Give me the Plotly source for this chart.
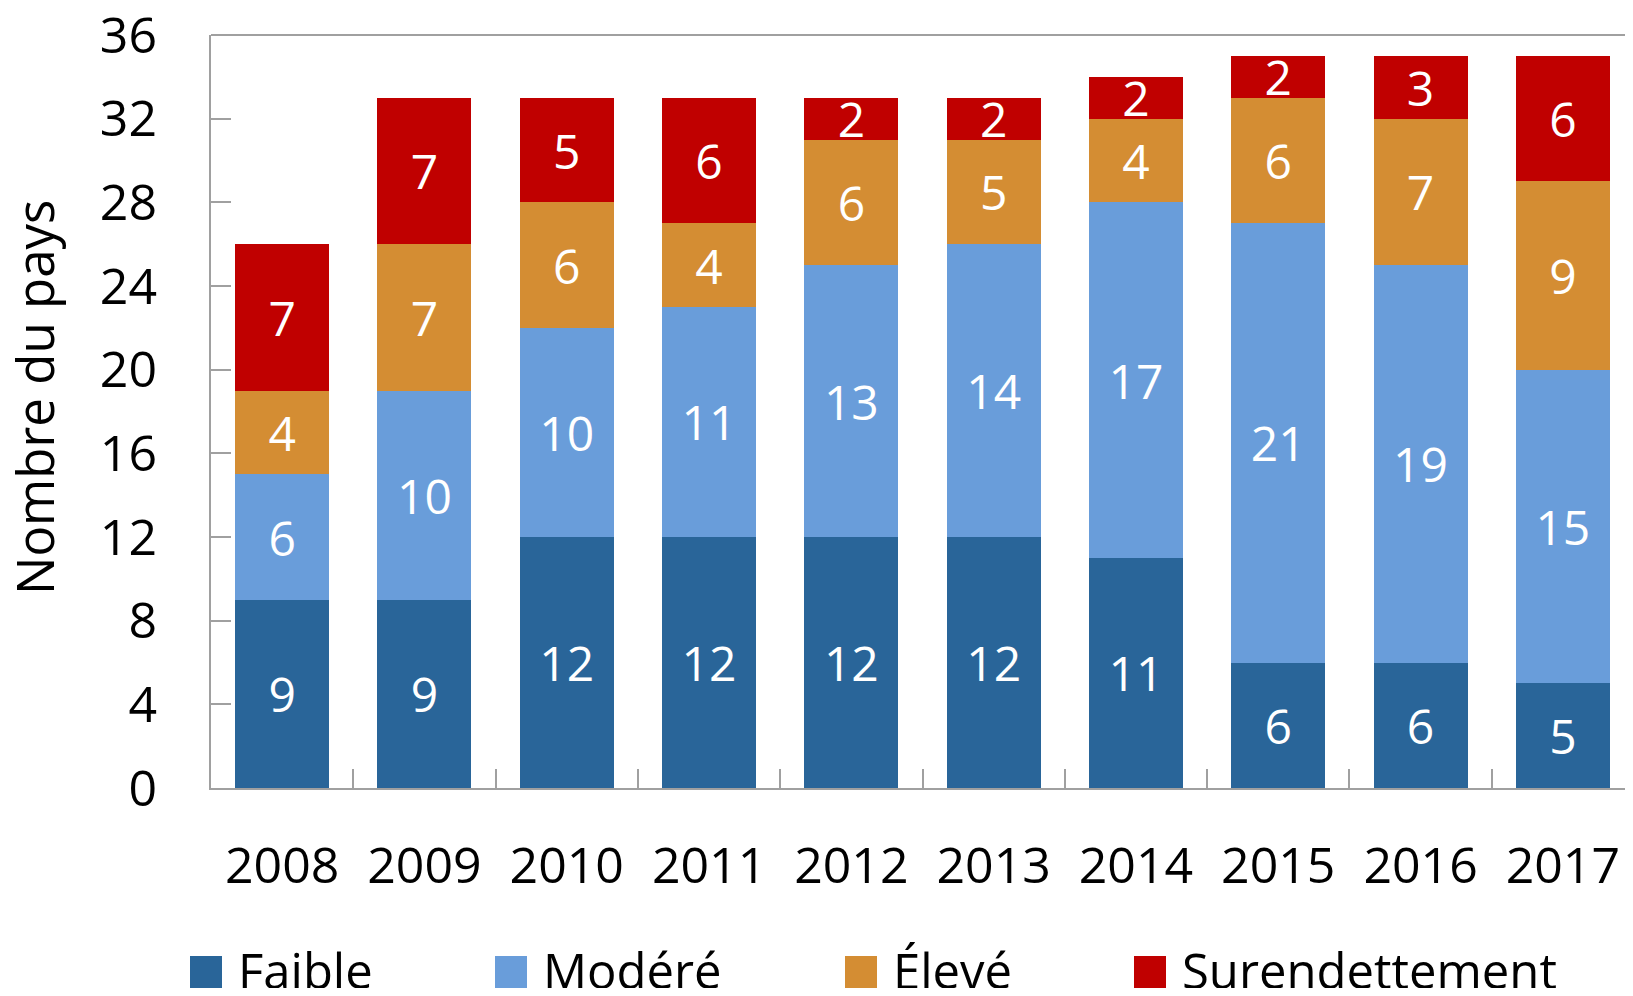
import plotly.graph_objects as go

years = ["2008", "2009", "2010", "2011", "2012", "2013", "2014", "2015", "2016", "2017"]
faible = [9, 9, 12, 12, 12, 12, 11, 6, 6, 5]
modere = [6, 10, 10, 11, 13, 14, 17, 21, 19, 15]
eleve = [4, 7, 6, 4, 6, 5, 4, 6, 7, 9]
surendettement = [7, 7, 5, 6, 2, 2, 2, 2, 3, 6]

series_names = ["Faible", "Modéré", "Élevé", "Surendettement"]
series_values = [faible, modere, eleve, surendettement]
colors = ["#296599", "#699DDA", "#D48D33", "#C00000"]

FONT = "Open Sans"
OFF = 8  # default page body margin
W, H = 1633 - 2 * OFF, 996 - 2 * OFF
L, T = 211 - OFF, 35 - OFF
B = H - (788 - OFF)
R = 0
CAT = 142.3

fig = go.Figure()
for name, vals, col in zip(series_names, series_values, colors):
    fig.add_trace(go.Bar(
        x=years, y=vals, name=name,
        marker=dict(color=col, line=dict(width=0)),
        text=[str(v) for v in vals],
        textposition="inside", insidetextanchor="middle", textangle=0,
        textfont=dict(family=FONT, size=48, color="white"),
        showlegend=False,
    ))

plot_w = W - L - R
plot_h = H - T - B

def px_x(p):
    return (p - OFF - L) / plot_w

def px_y(p):
    return (H - B - (p - OFF)) / plot_h

shapes = [dict(type="line", xref="paper", yref="paper", x0=0, x1=1, y0=1, y1=1,
               line=dict(color="#A0A0A0", width=2))]
annotations = []
legend_sq = [190, 495, 845, 1134]
for name, col, sx in zip(series_names, colors, legend_sq):
    shapes.append(dict(type="rect", xref="paper", yref="paper",
                       x0=px_x(sx), x1=px_x(sx + 32), y0=px_y(988), y1=px_y(956),
                       fillcolor=col, line=dict(width=0)))
    annotations.append(dict(xref="paper", yref="paper", x=px_x(sx + 46), y=px_y(970),
                            text=name, showarrow=False, xanchor="left", yanchor="middle",
                            font=dict(family=FONT, size=49, color="black")))

annotations.append(dict(xref="paper", yref="paper", x=px_x(34), y=px_y(398),
                        text="Nombre du pays", textangle=-90, showarrow=False,
                        xanchor="center", yanchor="middle",
                        font=dict(family=FONT, size=51, color="black")))

fig.update_layout(
    width=W, height=H,
    barmode="stack", bargap=0.34,
    plot_bgcolor="white", paper_bgcolor="white",
    margin=dict(l=L, r=R, t=T, b=B, pad=0, autoexpand=False),
    uniformtext=dict(minsize=48, mode="show"),
    shapes=shapes, annotations=annotations,
    font=dict(family=FONT, color="black"),
    xaxis=dict(
        type="category", range=[-0.5, -0.5 + plot_w / CAT],
        showline=True, linecolor="#A0A0A0", linewidth=2,
        ticks="inside", tickson="boundaries", ticklen=19, tickwidth=2, tickcolor="#A0A0A0",
        tickfont=dict(family=FONT, size=50, color="black"),
        ticklabelstandoff=33, ticklabeloverflow="allow", automargin=False,
        showgrid=False, zeroline=False,
    ),
    yaxis=dict(
        range=[0, 36], dtick=4, tick0=0,
        showline=True, linecolor="#A0A0A0", linewidth=2,
        ticks="inside", ticklen=20, tickwidth=2, tickcolor="#A0A0A0",
        tickfont=dict(family=FONT, size=50, color="black"),
        ticklabelstandoff=42, ticklabeloverflow="allow", automargin=False,
        showgrid=False, zeroline=False,
    ),
)

fig.write_html("out.html")
